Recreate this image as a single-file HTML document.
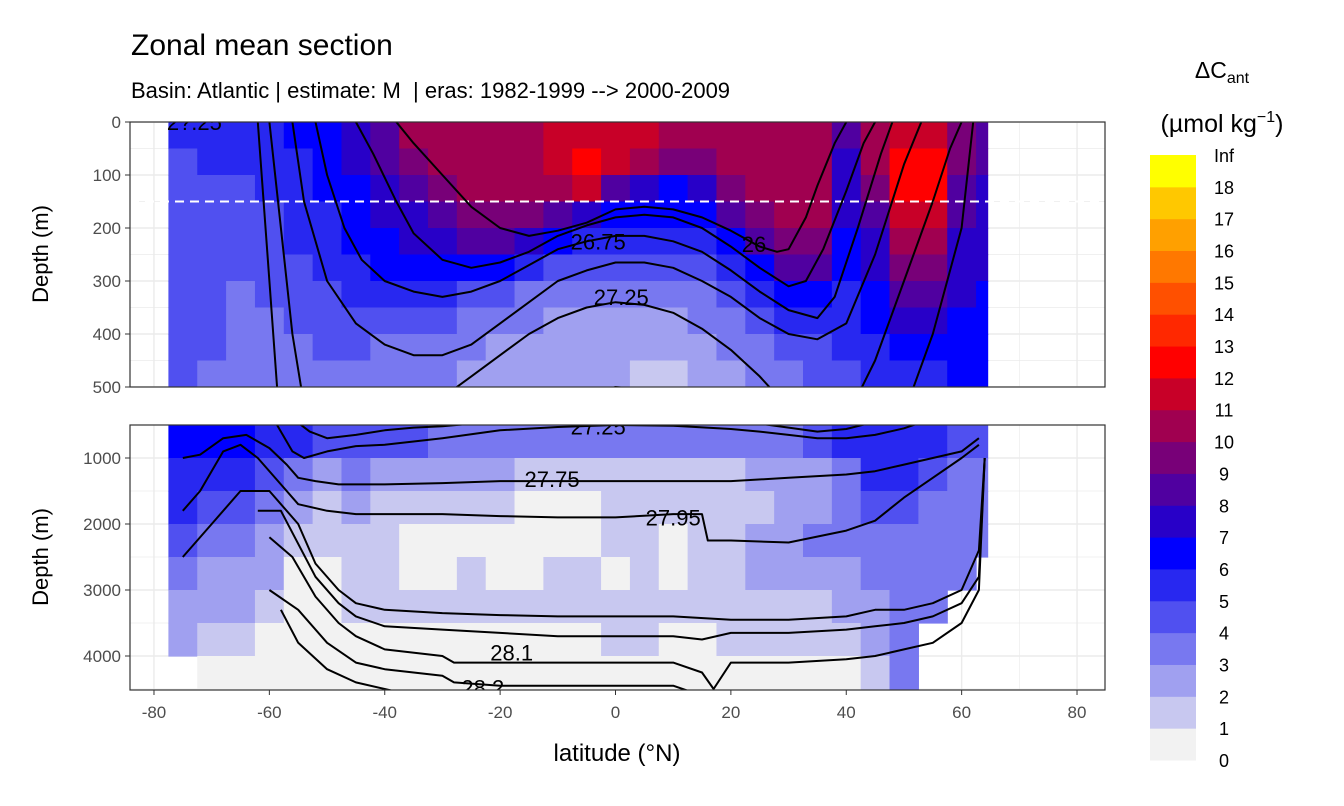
<!DOCTYPE html>
<html><head><meta charset="utf-8"><style>html,body{margin:0;background:#fff;overflow:hidden;width:1344px;height:806px}svg{display:block;font-family:"Liberation Sans",sans-serif}</style></head>
<body>
<svg id="c" width="1344" height="806">
<text x="131" y="55" font-size="30" fill="#000">Zonal mean section</text>
<text x="131" y="98" font-size="22" fill="#000" xml:space="preserve">Basin: Atlantic | estimate: M  | eras: 1982-1999 --&gt; 2000-2009</text>
<defs>
<clipPath id="ct"><rect x="130" y="122" width="975" height="265"/></clipPath>
<clipPath id="cb"><rect x="130" y="425" width="975" height="265"/></clipPath>
</defs>
<g id="gTop" clip-path="url(#ct)"></g>
<g id="gBot" clip-path="url(#cb)"></g>
<g id="axes"></g>
<g id="legend"></g>
</svg>
<script>
const NS='http://www.w3.org/2000/svg';
const lats=[-75,-70,-65,-60,-55,-50,-45,-40,-35,-30,-25,-20,-15,-10,-5,0,5,10,15,20,25,30,35,40,45,50,55,60,65];
const topDepths=[25,75,125,175,225,275,325,375,425,475];
const topVals=[
[5,5,5,5,6,6,7,8,10,10,10,10,10,11,11,11,11,10,10,10,10,10,10,8,10,11,11,9,8],
[4,5,5,5,5,6,7,8,9,10,10,10,10,11,12,11,10,9,9,10,10,10,10,7,10,12,12,9,8],
[4,4,4,5,5,6,6,7,8,9,10,10,10,10,11,8,7,6,7,9,10,10,10,7,9,12,12,8,7],
[4,4,4,4,5,5,6,7,7,8,9,9,9,8,7,6,6,6,6,8,9,10,10,7,8,11,11,8,7],
[4,4,4,4,5,5,6,6,7,7,8,8,7,6,5,5,5,5,5,6,8,9,9,6,7,10,10,7,7],
[4,4,4,4,4,5,5,6,6,6,6,6,5,4,4,4,4,4,4,5,6,8,8,6,7,9,9,7,7],
[4,4,3,4,4,4,5,5,5,5,4,4,3,3,3,3,3,3,3,4,5,6,6,5,6,8,8,7,6],
[4,4,3,3,4,4,4,4,4,4,3,3,3,2,2,2,2,2,3,3,4,5,5,5,6,7,7,6,6],
[4,4,3,3,3,4,4,3,3,3,3,2,2,2,2,2,2,2,2,3,3,4,4,5,5,6,6,6,6],
[4,3,3,3,3,3,3,3,3,3,2,2,2,2,2,2,1,1,2,2,3,3,4,4,5,5,5,6,6]];
const botDepths=[750,1250,1750,2250,2750,3250,3750,4250];
const botVals=[
[6,6,6,5,5,4,4,4,4,3,3,3,3,3,3,3,3,3,3,3,3,3,4,5,5,5,5,4,4],
[5,5,5,4,3,2,3,2,2,2,2,2,1,1,1,1,1,1,1,1,2,2,2,3,5,5,4,3,3],
[5,4,4,3,2,1,2,1,1,1,1,1,0,0,0,1,1,1,1,1,1,2,2,3,4,4,3,3,3],
[4,3,3,2,1,1,1,1,0,0,0,0,0,0,0,1,1,0,1,1,2,2,3,3,3,3,3,3,3],
[3,2,2,2,0,0,1,1,0,0,1,0,0,1,1,0,1,0,1,1,2,2,2,2,3,3,3,3,-1],
[2,2,2,1,0,0,1,1,1,1,1,1,1,1,1,1,1,1,1,1,1,1,1,2,2,3,3,-1,-1],
[2,1,1,0,0,0,0,0,0,0,0,0,0,0,0,1,1,0,0,1,1,1,1,1,2,3,-1,-1,-1],
[-1,0,0,0,0,0,0,0,0,0,0,0,0,0,0,0,0,0,0,0,0,0,0,0,1,3,-1,-1,-1]];
const binColors=['#f2f2f2','#c8c8f0','#a0a0f0','#7878f0','#5050f0','#2828f0','#0000ff','#2800c8','#5000a0','#780078','#a00050','#c80028','#ff0000','#ff2800','#ff5000','#ff7800','#ffa000','#ffc800','#ffff00'];
const legendLabels=['0','1','2','3','4','5','6','7','8','9','10','11','12','13','14','15','16','17','18','Inf'];
const contourLat=[
[-38,-35,-30,-25,-20,-15,-10,-5,0,5,10,15,20,25,28,30,33,35,38,40],
[-45,-42,-38,-35,-30,-25,-20,-15,-10,-5,0,5,10,15,20,25,30,33,36,40,43,45],
[-52,-50,-47,-44,-40,-35,-30,-25,-20,-15,-10,-5,0,5,10,15,20,25,30,35,38,42,46,48],
[-56,-54,-50,-45,-40,-35,-30,-25,-20,-15,-10,-5,0,5,10,15,20,25,30,35,40,45,50,53],
[-60,-58,-56,-53,-50,-45,-40,-35,-30,-25,-20,-15,-10,-5,0,5,10,15,20,25,30,35,40,45,50,55,58,60],
[-62,-60,-58,-56,-54,-50,-45,-40,-35,-30,-20,-10,0,10,20,25,30,35,40,45,50,55,60,62],
[-75,-72,-68,-64,-60,-57,-55,-52,-48,-45,-40,-30,-20,-10,0,10,20,30,40,45,50,55,60,63],
[-75,-72,-68,-65,-62,-58,-55,-50,-45,-40,-30,-20,-10,0,10,15,16,20,30,40,45,50,55,60,63],
[-75,-70,-65,-60,-55,-52,-48,-45,-40,-30,-20,-10,0,10,20,30,40,45,50,55,60,63,64],
[-62,-58,-55,-52,-48,-45,-40,-30,-20,-10,0,10,15,20,30,40,45,50,55,60,63,64],
[-60,-56,-52,-48,-45,-40,-30,-28,-20,-10,0,10,15,17,20,30,40,45,50,55,60,63,64],
[-60,-55,-50,-45,-40,-30,-28,-20,-10,0,10,15,17],
[-58,-55,-50,-45,-40,-35]];
const contourDepth=[
[0,40,100,160,200,215,205,190,165,160,165,180,205,235,245,240,180,120,40,0],
[0,60,150,210,260,275,265,245,215,195,180,175,180,200,235,275,310,300,240,130,40,0],
[0,100,200,260,300,320,330,320,300,270,240,225,215,215,225,245,280,320,355,370,330,200,60,0],
[0,150,300,380,420,440,440,420,380,340,300,280,265,265,275,300,330,370,400,410,380,250,80,0],
[0,200,400,600,700,650,580,540,520,480,440,400,370,350,340,345,360,390,430,480,540,600,560,450,300,150,50,0],
[0,300,600,900,1000,900,820,800,750,700,580,530,500,510,560,600,650,700,700,650,550,400,200,0],
[1000,950,700,650,850,1100,1300,1350,1400,1400,1400,1380,1350,1350,1350,1350,1350,1300,1250,1200,1100,1000,900,700],
[1800,1500,900,800,1000,1400,1700,1800,1850,1850,1850,1880,1900,1900,1850,1850,2250,2250,2280,2100,1950,1600,1300,1000,800],
[2500,2000,1500,1500,2000,2600,3000,3200,3300,3350,3380,3400,3400,3400,3450,3450,3400,3300,3300,3200,3000,2400,1000],
[1800,1800,2300,2800,3200,3400,3550,3600,3650,3700,3700,3700,3750,3650,3650,3600,3550,3500,3400,3200,2800,1000],
[2200,2500,3100,3500,3700,3900,4000,4100,4100,4100,4100,4100,4250,4500,4100,4100,4050,4000,3900,3800,3500,3000,1000],
[3000,3300,3800,4100,4200,4300,4400,4450,4450,4450,4450,4600,4700],
[3300,3800,4200,4400,4500,4600]];
const contourLabels=[['26.75',-3,225],['26',24,230],['27.25',1,330],['27.25',-3,520],['27.75',-11,1320],['27.95',10,1900],['28.1',-18,3950],['28.2',-23,4480],['2?.25',-73,0]];

const xS=l=>615.5+l*5.769;
const yT=d=>122+d*0.53;
const yB=d=>425+(d-500)*0.066;
function mk(tag,attrs,parent){const e=document.createElementNS(NS,tag);for(const k in attrs)e.setAttribute(k,attrs[k]);parent.appendChild(e);return e;}
const gT=document.getElementById('gTop'),gB=document.getElementById('gBot'),ax=document.getElementById('axes');

function panelBg(g,y0,yMaj,ySc,minY){
  mk('rect',{x:130,y:y0,width:975,height:265,fill:'#fff'},g);
  for(let l=-90;l<=90;l+=10){const x=xS(l);mk('line',{x1:x,x2:x,y1:y0,y2:y0+265,stroke:'#ebebeb','stroke-width':l%20===0?1.4:0.7},g);}
  minY.forEach(d=>mk('line',{x1:130,x2:1105,y1:ySc(d),y2:ySc(d),stroke:'#ebebeb','stroke-width':0.7},g));
  yMaj.forEach(d=>mk('line',{x1:130,x2:1105,y1:ySc(d),y2:ySc(d),stroke:'#ebebeb','stroke-width':1.4},g));
}
panelBg(gT,122,[0,100,200,300,400,500],yT,[50,150,250,350,450]);
panelBg(gB,425,[1000,2000,3000,4000],yB,[500,1500,2500,3500,4500]);

function cells(g,depths,vals,ySc,step){
  depths.forEach((d,i)=>{
    lats.forEach((l,j)=>{
      const v=vals[i][j]; if(v<0)return;
      const x0=xS(Math.max(l-2.5,-77.5)),x1=xS(Math.min(l+2.5,64.5));
      const y0=ySc(d-step/2),y1=ySc(d+step/2);
      const r=mk('rect',{x:x0,y:y0,width:x1-x0+0.6,height:y1-y0+0.6,fill:binColors[v]},g);
      
      
    });
  });
}
cells(gT,topDepths,topVals,yT,50);
cells(gB,botDepths,botVals,yB,500);

mk('line',{x1:130,x2:1105,y1:yT(150),y2:yT(150),stroke:'#fff','stroke-width':2,'stroke-dasharray':'9,6'},gT);

function lines(g,ySc){
  contourLat.forEach((la,i)=>{
    const pts=la.map((l,k)=>xS(l).toFixed(1)+','+ySc(contourDepth[i][k]).toFixed(1)).join(' ');
    const p=mk('polyline',{points:pts,fill:'none',stroke:'#000','stroke-width':2,'stroke-linejoin':'round'},g);
    
    
  });
}
lines(gT,yT);lines(gB,yB);
contourLabels.forEach(c=>{
  [[gT,yT,c[2]<=520],[gB,yB,c[2]>=480]].forEach(([g,ys,ok])=>{
    if(!ok)return;
    const t=mk('text',{x:xS(c[1]),y:ys(c[2])+8,'font-size':22,'text-anchor':'middle',fill:'#000'},g);
    t.textContent=c[0];
    
    
  });
});
mk('rect',{x:130,y:122,width:975,height:265,fill:'none',stroke:'#333','stroke-width':1.2},ax);
mk('rect',{x:130,y:425,width:975,height:265,fill:'none',stroke:'#333','stroke-width':1.2},ax);

const topTicks=['0','100','200','300','400','500'];
const botTicks=['1000','2000','3000','4000'];
const xTicks=['-80','-60','-40','-20','0','20','40','60','80'];
topTicks.forEach(s=>{const y=yT(+s);mk('line',{x1:125,x2:130,y1:y,y2:y,stroke:'#333'},ax);const t=mk('text',{x:121,y:y+6,'font-size':17,'text-anchor':'end',fill:'#4d4d4d'},ax);t.textContent=s;});
botTicks.forEach(s=>{const y=yB(+s);mk('line',{x1:125,x2:130,y1:y,y2:y,stroke:'#333'},ax);const t=mk('text',{x:121,y:y+6,'font-size':17,'text-anchor':'end',fill:'#4d4d4d'},ax);t.textContent=s;});
xTicks.forEach(s=>{const x=xS(+s);mk('line',{x1:x,x2:x,y1:690,y2:695,stroke:'#333'},ax);const t=mk('text',{x:x,y:718,'font-size':17,'text-anchor':'middle',fill:'#4d4d4d'},ax);t.textContent=s;});
[[254],[557]].forEach(([y])=>{const t=mk('text',{x:48,y:y,'font-size':22,'text-anchor':'middle',transform:'rotate(-90 48 '+y+')',fill:'#000'},ax);t.textContent='Depth (m)';});
{const t=mk('text',{x:617,y:761,'font-size':24,'text-anchor':'middle',fill:'#000'},ax);t.textContent='latitude (°N)';}

const lg=document.getElementById('legend');
const bh=605/19,by0=760;
binColors.forEach((c,i)=>{
  const r=mk('rect',{x:1150,y:by0-(i+1)*bh,width:46,height:bh+0.5,fill:c},lg);
  
  
});
legendLabels.forEach((s,i)=>{
  const t=mk('text',{x:1224,y:by0-i*bh+7,'font-size':18,'text-anchor':'middle',fill:'#000'},lg);
  t.textContent=s;
  
  
});
{const t=mk('text',{x:1222,y:78,'font-size':23,'text-anchor':'middle',fill:'#000'},lg);t.innerHTML='ΔC<tspan font-size="16" dy="5">ant</tspan>';}
{const t=mk('text',{x:1222,y:132,'font-size':25,'text-anchor':'middle',fill:'#000'},lg);t.innerHTML='(µmol kg<tspan font-size="16" dy="-10">−1</tspan><tspan dy="10">)</tspan>';}
</script>
</body></html>
